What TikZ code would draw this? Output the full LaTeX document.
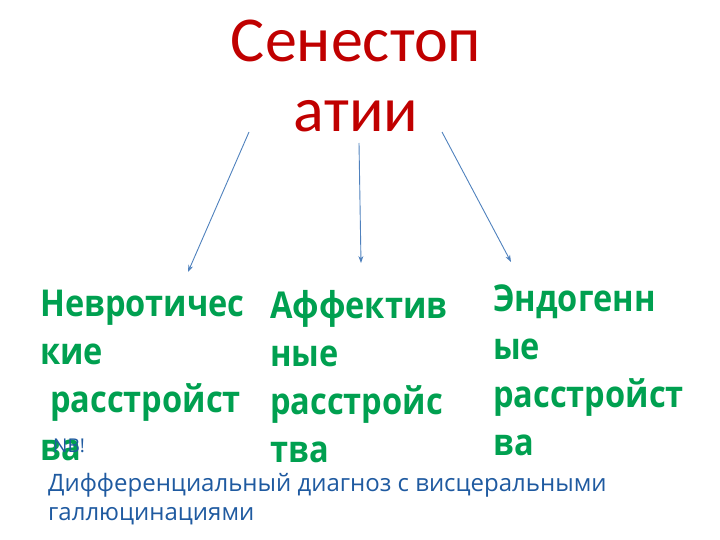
\documentclass[tikz,border=0pt]{standalone}
\usepackage{fontspec}
\setmainfont{Open Sans}
\newfontfamily\titlefont{Carlito}
\newfontfamily\greenfont[FakeStretch=0.88]{Open Sans}
\usetikzlibrary{arrows.meta}
\definecolor{titlered}{RGB}{192,0,0}
\definecolor{itemgreen}{RGB}{0,160,80}
\definecolor{notblue}{RGB}{31,90,160}
\definecolor{arrowblue}{RGB}{79,129,189}
\tikzset{
  titletext/.style={text=titlered, font=\titlefont\fontsize{64}{70}\selectfont, inner sep=0pt, align=center},
  item/.style={text=itemgreen, font=\greenfont\bfseries\fontsize{37}{48}\selectfont, inner sep=0pt, anchor=base west, align=left},
  note/.style={text=notblue, font=\fontsize{24}{29}\selectfont, inner sep=0pt, anchor=base west, align=left},
  link/.style={draw=arrowblue, line width=0.9pt, -{Stealth[length=7pt,width=5pt]}}
}
\begin{document}
\begin{tikzpicture}[x=1pt,y=-1pt]
\useasboundingbox (0,0) rectangle (720,540);
\node[titletext, anchor=base] (title) at (356,132) {Сенестоп\\атии};
\node[item] (neuro) at (40,460) {Невротичес\\кие\\\hspace{10pt}расстройст\\ва};
\node[item] (affect) at (270,462) {Аффектив\\ные\\расстройс\\тва};
\node[item] (endo) at (493,455) {Эндогенн\\ые\\расстройст\\ва};
\node[note, font=\fontsize{19}{22}\selectfont] (nb) at (53,452) {NB!};
\node[note] (diff) at (48,520) {Дифференциальный диагноз с висцеральными\\галлюцинациями};
\coordinate (s1) at (249,132);
\coordinate (e1) at (188,272);
\coordinate (s2) at (359,143);
\coordinate (e2) at (361,263);
\coordinate (s3) at (442,132);
\coordinate (e3) at (511,262);
\draw[link] (s1) -- (e1);
\draw[link] (s2) -- (e2);
\draw[link] (s3) -- (e3);
\end{tikzpicture}
\end{document}
